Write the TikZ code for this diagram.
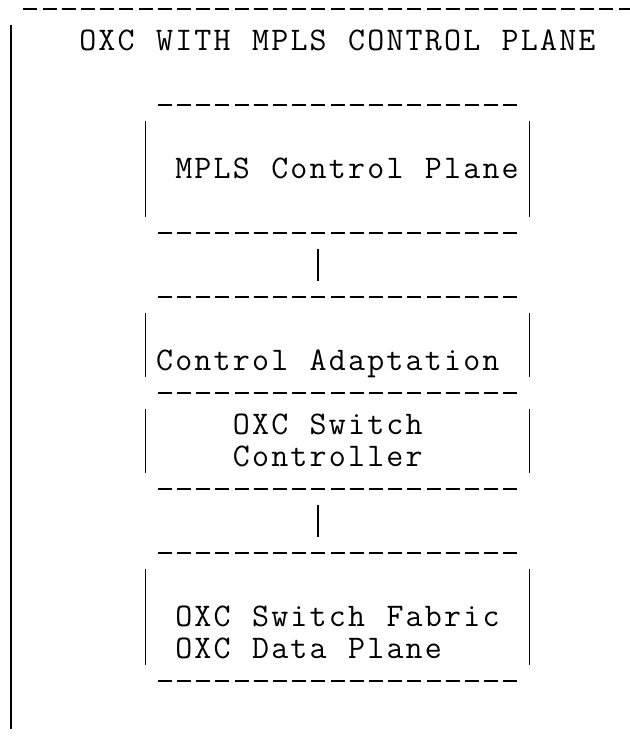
\documentclass[tikz,border=0pt]{standalone}
\def\cellsloop#1{\ifx#1\relax\else\makebox[19.2pt]{#1}\expandafter\cellsloop\fi}
\newcommand\cells[1]{\cellsloop#1\relax}
\tikzset{
  x=1pt, y=-1pt,
  asc/.style={anchor=base west, inner sep=0pt, outer sep=0pt,
    font=\ttfamily\fontsize{33}{33}\selectfont},
  dashrow/.style={line width=2pt, dash pattern=on 14pt off 5.2pt},
  bar/.style={line width=1.8pt},
}
\begin{document}
\begin{tikzpicture}
\path[fill=white,use as bounding box] (0,0) rectangle (629,743);
% outer frame: top dashes and left bar
\coordinate (topL) at (23.3,9);
\coordinate (topR) at (640,9);
\draw[dashrow] (topL) -- (topR);
\coordinate (barT) at (11,25);
\coordinate (barB) at (11,729);
\draw[bar] (barT) -- (barB);
\node[asc] (title) at (78.2,50.5) {\cells{OXC~WITH~MPLS~CONTROL~PLANE}};
% box 1: MPLS Control Plane
\coordinate (b1tl) at (157.7,105); \coordinate (b1tr) at (518.3,105);
\coordinate (b1bl) at (157.7,233); \coordinate (b1br) at (518.3,233);
\draw[dashrow] (b1tl) -- (b1tr);
\draw[dashrow] (b1bl) -- (b1br);
\draw[bar] (145.4,121) -- (145.4,217);
\draw[bar] (529.4,121) -- (529.4,217);
\node[asc] (mpls) at (174.2,178.5) {\cells{MPLS~Control~Plane}};
% connector 1
\coordinate (c1a) at (318.2,249); \coordinate (c1b) at (318.2,281);
\draw[bar] (c1a) -- (c1b);
% box 2: Control Adaptation / OXC Switch Controller
\coordinate (b2tl) at (157.7,297); \coordinate (b2tr) at (518.3,297);
\coordinate (b2ml) at (157.7,393); \coordinate (b2mr) at (518.3,393);
\coordinate (b2bl) at (157.7,489); \coordinate (b2br) at (518.3,489);
\draw[dashrow] (b2tl) -- (b2tr);
\draw[dashrow] (b2ml) -- (b2mr);
\draw[dashrow] (b2bl) -- (b2br);
\draw[bar] (145.4,313) -- (145.4,377);
\draw[bar] (529.4,313) -- (529.4,377);
\draw[bar] (145.4,409) -- (145.4,473);
\draw[bar] (529.4,409) -- (529.4,473);
\node[asc] (adapt) at (155.0,370.5) {\cells{Control~Adaptation}};
\node[asc] (ctl1) at (231.8,434.5) {\cells{OXC~Switch}};
\node[asc] (ctl2) at (231.8,466.5) {\cells{Controller}};
% connector 2
\coordinate (c2a) at (318.2,505); \coordinate (c2b) at (318.2,537);
\draw[bar] (c2a) -- (c2b);
% box 3: OXC Switch Fabric / Data Plane
\coordinate (b3tl) at (157.7,553); \coordinate (b3tr) at (518.3,553);
\coordinate (b3bl) at (157.7,681); \coordinate (b3br) at (518.3,681);
\draw[dashrow] (b3tl) -- (b3tr);
\draw[dashrow] (b3bl) -- (b3br);
\draw[bar] (145.4,569) -- (145.4,665);
\draw[bar] (529.4,569) -- (529.4,665);
\node[asc] (fab1) at (174.2,626.5) {\cells{OXC~Switch~Fabric}};
\node[asc] (fab2) at (174.2,658.5) {\cells{OXC~Data~Plane}};
\end{tikzpicture}
\end{document}
